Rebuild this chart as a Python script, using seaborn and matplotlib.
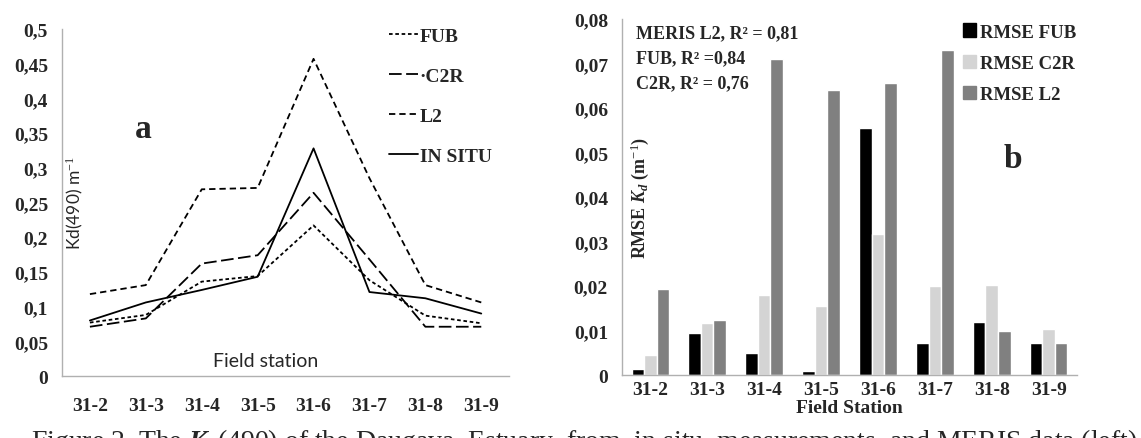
import pandas as pd
import seaborn as sns
import matplotlib
matplotlib.use("Agg")
from matplotlib import pyplot as plt
from matplotlib.ticker import FuncFormatter, FixedLocator
from matplotlib.lines import Line2D
from matplotlib.patches import Patch

# Field stations
stations = ["31-2", "31-3", "31-4", "31-5", "31-6", "31-7", "31-8", "31-9"]

# Kd(490) values (left panel)
kd_fub = [0.077, 0.088, 0.136, 0.144, 0.217, 0.138, 0.087, 0.076]
kd_c2r = [0.071, 0.083, 0.162, 0.174, 0.264, 0.168, 0.071, 0.071]
kd_l2 = [0.118, 0.131, 0.269, 0.271, 0.457, 0.285, 0.131, 0.106]
kd_insitu = [0.080, 0.106, 0.124, 0.143, 0.328, 0.121, 0.112, 0.090]

# RMSE values (right panel)
rmse_fub = [0.0014, 0.0094, 0.0050, 0.0009, 0.0556, 0.0071, 0.0120, 0.0073]
rmse_c2r = [0.0046, 0.0117, 0.0179, 0.0156, 0.0316, 0.0200, 0.0202, 0.0104]
rmse_l2 = [0.0193, 0.0124, 0.0710, 0.0640, 0.0656, 0.0730, 0.0098, 0.0073]

line_names = ["FUB", "C2R", "L2", "IN SITU"]
bar_names = ["RMSE FUB", "RMSE C2R", "RMSE L2"]
r2_labels = ["MERIS L2, R² = 0,81", "FUB, R² =0,84", "C2R, R² = 0,76"]

# long tables for seaborn
kd_df = pd.DataFrame({
    "station": stations * 4,
    "kd": kd_fub + kd_c2r + kd_l2 + kd_insitu,
    "series": [n for n in line_names for _ in stations],
})
rmse_df = pd.DataFrame({
    "station": stations * 3,
    "rmse": rmse_fub + rmse_c2r + rmse_l2,
    "series": [n for n in bar_names for _ in stations],
})

sns.set_style("white")
plt.rcParams["font.family"] = ["Liberation Serif", "DejaVu Serif"]
plt.rcParams["mathtext.fontset"] = "custom"
plt.rcParams["mathtext.rm"] = "Liberation Serif"
plt.rcParams["mathtext.it"] = "Liberation Serif:italic:bold"
plt.rcParams["mathtext.bf"] = "Liberation Serif:bold"

fig = plt.figure(figsize=(11.41, 4.39), dpi=100)
ax1 = fig.add_axes([0.0543, 0.1412, 0.392, 0.7905])
ax2 = fig.add_axes([0.545, 0.1435, 0.399, 0.811])

spine_col = "#b0b0b0"
dash_map = {"FUB": (2, 1.5), "C2R": (7, 2.5), "L2": (3.5, 2.2), "IN SITU": ""}
bold_serif = {"family": "Liberation Serif", "weight": "bold", "size": 14}

# ---- left panel: lines
sns.lineplot(data=kd_df, x="station", y="kd", style="series", dashes=dash_map,
             color="black", linewidth=1.3, sort=False, legend=False, ax=ax1)
ax1.set_xlim(-0.5, 7.5)
ax1.set_ylim(0, 0.5)
ax1.set_yticks([i * 0.05 for i in range(11)])
ax1.yaxis.set_major_formatter(FuncFormatter(lambda v, p: ("%g" % round(v, 3)).replace(".", ",")))
ax1.set_xlabel("")
ax1.set_ylabel("")

handles = []
for n in line_names:
    if dash_map[n]:
        handles.append(Line2D([], [], color="black", lw=1.3, dashes=dash_map[n]))
    else:
        handles.append(Line2D([], [], color="black", lw=1.3))
ax1.legend(handles, ["FUB", "·C2R", "L2", "IN SITU"], loc="upper right",
           bbox_to_anchor=(1.0, 1.055), frameon=False, handlelength=1.5,
           handletextpad=0.1, labelspacing=1.15, prop=bold_serif)

ax1.text(0.181, 0.712, "a", transform=ax1.transAxes, fontsize=24, fontweight="bold",
         ha="center", va="center")
ax1.text(0.029, 0.5, "Kd(490) m$^{-1}$", transform=ax1.transAxes, rotation=90,
         ha="center", va="center", fontsize=12.5, family="Lato")
ax1.text(0.455, 0.045, "Field station", transform=ax1.transAxes,
         ha="center", va="center", fontsize=14, family="Lato")

# ---- right panel: bars
sns.barplot(data=rmse_df, x="station", y="rmse", hue="series",
            palette=["#000000", "#d4d4d4", "#808080"], width=0.66, gap=0,
            saturation=1, errorbar=None, legend=False, ax=ax2)
ax2.set_xlim(-0.5, 7.5)
ax2.set_ylim(0, 0.08)
ax2.set_yticks([i * 0.01 for i in range(9)])
ax2.yaxis.set_major_formatter(FuncFormatter(lambda v, p: ("%g" % round(v, 3)).replace(".", ",")))
ax2.set_ylabel("")
ax2.set_xlabel("Field Station", fontsize=14, fontweight="bold", labelpad=1)

bar_handles = [Patch(color=c) for c in ["#000000", "#d4d4d4", "#808080"]]
ax2.legend(bar_handles, bar_names, loc="upper right", bbox_to_anchor=(1.035, 1.035),
           frameon=False, handlelength=0.7, handleheight=0.7, handletextpad=0.2,
           labelspacing=0.75, prop={"family": "Liberation Serif", "weight": "bold", "size": 13.5})

for i, t in enumerate(r2_labels):
    ax2.text(0.03, 0.96 - i * 0.07, t, transform=ax2.transAxes, fontsize=13,
             fontweight="bold", ha="left", va="center")
ax2.text(0.86, 0.607, "b", transform=ax2.transAxes, fontsize=24, fontweight="bold",
         ha="center", va="center")
ax2.text(0.04, 0.5, r"RMSE $K_d$ (m$^{-1}$)", transform=ax2.transAxes, rotation=90,
         ha="center", va="center", fontsize=13, fontweight="bold")

# shared axis styling (excel look)
for ax in (ax1, ax2):
    sns.despine(ax=ax)
    for s in ("left", "bottom"):
        ax.spines[s].set_color(spine_col)
        ax.spines[s].set_linewidth(1.0)
    ax.xaxis.set_minor_locator(FixedLocator([i - 0.5 for i in range(9)]))
    ax.tick_params(axis="x", which="major", length=0, pad=15)
    ax.tick_params(axis="x", which="minor", length=5, color=spine_col, direction="out")
    ax.tick_params(axis="y", length=4, color=spine_col, direction="out", pad=6)
    for lab in ax.get_xticklabels() + ax.get_yticklabels():
        lab.set_fontweight("bold")
        lab.set_fontsize(14)
ax2.tick_params(axis="x", which="major", pad=4)

# caption of the source figure, cut off at the bottom edge as in the original
fig.text(0.027, 0.027, "Figure 2. The $K_d$(490) of the Daugava  Estuary  from  in situ  measurements  and MERIS data (left),",
         fontsize=20, family="Liberation Serif", ha="left", va="top")

fig.savefig("out.png", dpi=100)
